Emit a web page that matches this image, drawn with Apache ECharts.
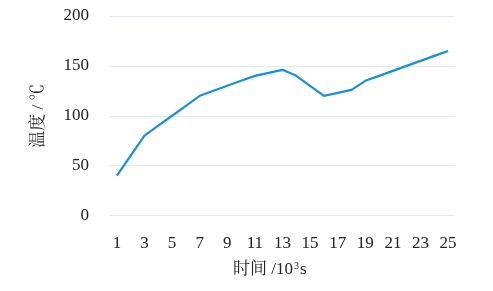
<!DOCTYPE html>
<html><head><meta charset="utf-8">
<script src="https://cdn.jsdelivr.net/npm/echarts@6/dist/echarts.min.js"></script>
<style>html,body{margin:0;padding:0;background:#fff}#c{width:493px;height:291px}</style>
</head><body><div id="c"></div>
<script>
const categories = ['1','2','3','4','5','6','7','8','9','10','11','12','13','14','15','16','17','18','19','20','21','22','23','24','25'];
const temperature = [40,60,80,90,100,110,120,125,130,135,140,143,146,140,130,120,123,126,135,140,145,150,155,160,165];
const yTicks = [0,50,100,150,200];
const FONT = '"Liberation Serif", "Times New Roman", "Noto Serif CJK SC", "Noto Sans CJK SC", serif';
const chart = echarts.init(document.getElementById('c'), null, {renderer:'canvas'});
chart.setOption({
  animation:false,
  grid:{left:110,right:38,top:16,bottom:75.5},
  xAxis:{type:'category',data:categories,boundaryGap:true,
    axisLine:{show:false},axisTick:{show:false},
    axisLabel:{interval:1,margin:20,color:'#222',fontSize:17,fontFamily:FONT}},
  yAxis:{type:'value',min:yTicks[0],max:yTicks[yTicks.length-1],interval:50,
    axisLine:{show:false},axisTick:{show:false},
    splitLine:{lineStyle:{color:'#e4eaed',width:1}},
    axisLabel:{margin:21,color:'#222',fontSize:17,fontFamily:FONT},
    name:'温度 / ℃',nameLocation:'middle',nameRotate:90,nameGap:63,
    nameTextStyle:{color:'#222',fontSize:17,fontFamily:FONT}},
  graphic:[{type:'text',left:233,top:261,style:{
    text:'{a|时间 /10}{s|3}{a|s}',
    rich:{a:{fontSize:17,fontFamily:FONT,fill:'#222'},s:{fontSize:10,fontFamily:FONT,fill:'#222',verticalAlign:'top',padding:[0,1,8,1]}}
  }}],
  series:[{type:'line',data:temperature,showSymbol:false,symbol:'none',
    lineStyle:{color:'#1b8fd6',width:2.2},itemStyle:{color:'#1b8fd6'}}]
});
</script></body></html>
